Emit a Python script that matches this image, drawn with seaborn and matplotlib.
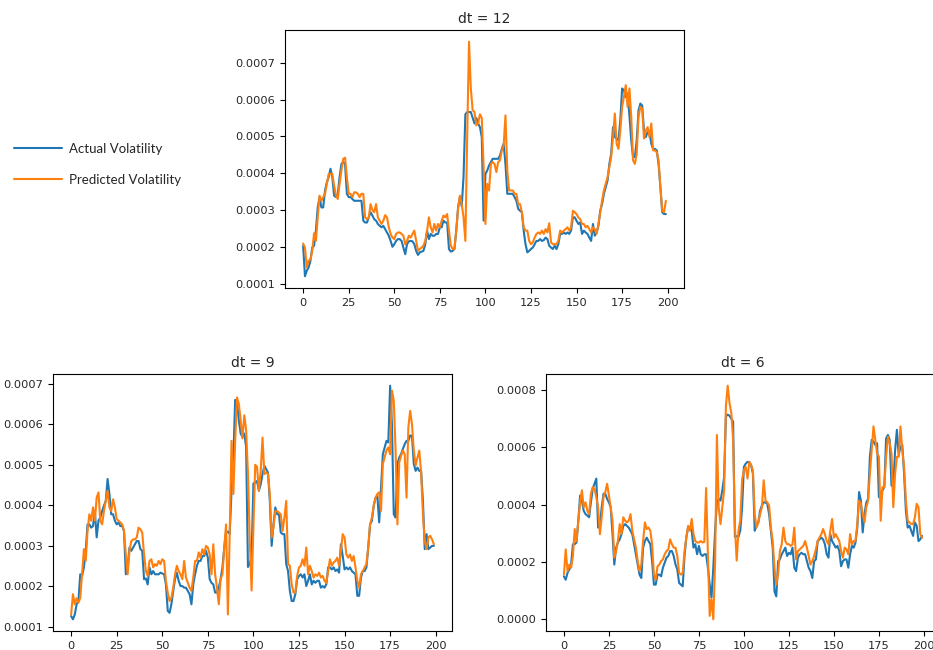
import numpy as np
import pandas as pd
import matplotlib
matplotlib.use("Agg")
import matplotlib.pyplot as plt
from matplotlib.ticker import MultipleLocator
import seaborn as sns

# Volatility series, stored in units of 1e-4
SCALE = 1e-4

actual_12 = [
    2.03, 1.2, 1.35, 1.44, 1.62, 1.98, 2.03, 2.44, 3.07, 3.35,
    3.07, 3.07, 3.53, 3.75, 3.89, 4.12, 3.89, 3.39, 3.35, 3.44,
    3.89, 4.25, 4.3, 4.25, 3.44, 3.35, 3.35, 3.3, 3.25, 3.25,
    3.25, 3.25, 3.25, 2.71, 2.66, 2.66, 2.8, 2.94, 2.85, 2.75,
    2.71, 2.62, 2.57, 2.53, 2.57, 2.48, 2.39, 2.3, 2.16, 2.0,
    2.07, 2.16, 2.21, 2.21, 2.16, 1.98, 1.8, 2.07, 2.15, 2.16,
    2.15, 2.07, 1.89, 1.78, 1.85, 1.87, 1.89, 2.07, 2.44, 2.21,
    2.35, 2.3, 2.3, 2.35, 2.35, 2.53, 2.53, 2.71, 2.66, 2.66,
    1.94, 1.87, 1.89, 1.94, 2.44, 3.07, 3.35, 3.1, 3.9, 5.6,
    5.66, 5.66, 5.66, 5.5, 5.35, 5.5, 5.35, 5.25, 4.98, 2.71,
    3.98, 4.07, 4.21, 4.3, 4.39, 4.39, 4.39, 4.39, 4.48, 4.66,
    4.8, 4.25, 3.44, 3.44, 3.44, 3.44, 3.35, 3.25, 3.03, 2.98,
    2.94, 2.44, 2.07, 1.85, 1.89, 1.94, 1.98, 2.07, 2.16, 2.16,
    2.21, 2.16, 2.18, 2.25, 2.21, 2.03, 1.98, 1.94, 2.03, 1.94,
    2.07, 2.35, 2.35, 2.39, 2.35, 2.39, 2.35, 2.44, 2.8, 2.8,
    2.71, 2.62, 2.66, 2.35, 2.44, 2.39, 2.35, 2.25, 2.16, 2.62,
    2.3, 2.39, 2.57, 2.98, 3.16, 3.44, 3.62, 3.8, 4.25, 4.53,
    5.25, 4.98, 4.94, 4.89, 5.44, 6.3, 6.25, 6.07, 6.16, 5.57,
    4.89, 4.44, 4.44, 4.89, 5.71, 5.89, 5.84, 5.16, 4.98, 5.12,
    5.12, 4.8, 4.66, 4.66, 4.62, 4.25, 3.62, 2.94, 2.89, 2.89,
]
predicted_12 = [
    2.09, 1.98, 1.44, 1.62, 1.66, 1.89, 2.37, 2.16, 2.8, 3.39,
    3.25, 3.35, 3.44, 3.71, 3.98, 3.98, 3.98, 3.66, 3.39, 3.3,
    3.71, 4.07, 4.39, 4.42, 3.89, 3.44, 3.44, 3.35, 3.48, 3.48,
    3.44, 3.35, 3.44, 3.44, 2.8, 2.75, 2.8, 3.16, 3.0, 2.94,
    3.16, 2.8, 2.71, 2.62, 2.71, 2.86, 2.8, 2.53, 2.35, 2.25,
    2.21, 2.35, 2.39, 2.39, 2.35, 2.3, 2.07, 2.16, 2.3, 2.25,
    2.35, 2.44, 2.16, 1.89, 1.94, 1.98, 2.03, 2.16, 2.44, 2.8,
    2.53, 2.39, 2.62, 2.44, 2.62, 2.53, 2.71, 2.85, 2.8, 2.89,
    2.44, 2.03, 1.94, 1.94, 2.44, 3.03, 3.39, 3.16, 2.8, 2.16,
    5.0, 7.57, 6.3, 5.71, 5.66, 5.3, 5.35, 5.6, 5.5, 4.2,
    2.62, 3.71, 3.53, 4.25, 4.3, 4.25, 4.03, 4.3, 4.35, 4.62,
    4.75, 5.57, 4.07, 3.53, 3.53, 3.53, 3.44, 3.44, 3.16, 3.16,
    2.94, 2.53, 2.44, 2.44, 2.16, 2.07, 2.12, 2.25, 2.35, 2.39,
    2.35, 2.44, 2.35, 2.48, 2.39, 2.64, 2.12, 2.07, 2.07, 2.07,
    2.16, 2.44, 2.39, 2.44, 2.48, 2.53, 2.44, 2.53, 2.98, 2.94,
    2.89, 2.8, 2.75, 2.62, 2.62, 2.53, 2.57, 2.48, 2.39, 2.53,
    2.48, 2.35, 2.62, 2.94, 3.25, 3.53, 3.71, 3.89, 4.16, 4.44,
    4.98, 5.62, 4.8, 4.66, 5.16, 5.8, 6.07, 6.39, 5.8, 6.3,
    5.53, 4.35, 4.25, 4.53, 5.53, 5.8, 5.75, 4.94, 5.16, 5.25,
    4.98, 5.35, 4.62, 4.62, 4.57, 4.35, 3.62, 2.98, 2.94, 3.25,
]

actual_9 = [
    1.27, 1.19, 1.31, 1.56, 1.64, 2.3, 2.26, 2.47, 2.88, 3.53,
    3.53, 3.45, 3.49, 3.86, 3.21, 3.62, 3.7, 3.86, 3.99, 4.11,
    4.65, 4.28, 3.78, 3.78, 3.62, 3.53, 3.58, 3.49, 3.49, 3.37,
    2.3, 2.47, 2.96, 2.88, 2.96, 3.04, 3.12, 3.12, 2.92, 2.88,
    2.18, 2.2, 2.05, 2.47, 2.3, 2.38, 2.3, 2.3, 2.3, 2.34,
    2.32, 2.3, 2.05, 1.4, 1.35, 1.56, 1.89, 2.18, 2.34, 2.14,
    2.01, 2.01, 1.97, 1.97, 1.89, 1.81, 1.56, 2.05, 2.3, 2.51,
    2.63, 2.63, 2.75, 2.75, 2.88, 2.71, 2.18, 2.09, 2.05, 1.85,
    1.85, 1.97, 2.18, 2.47, 2.96, 3.35, 3.35, 3.3, 4.37, 5.2,
    6.6, 6.56, 6.1, 5.77, 5.69, 5.77, 5.44, 2.48, 2.56, 2.73,
    4.54, 4.56, 4.6, 4.36, 4.52, 4.77, 4.98, 4.89, 4.81, 4.11,
    3.0, 3.53, 3.95, 3.78, 3.78, 3.33, 3.29, 3.29, 2.55, 2.38,
    1.89, 1.64, 1.64, 1.81, 2.18, 2.26, 2.3, 2.22, 2.3, 2.01,
    2.14, 2.3, 2.05, 2.14, 2.09, 2.14, 2.14, 1.97, 2.01, 1.97,
    2.05, 2.47, 2.47, 2.42, 2.47, 2.38, 2.42, 2.34, 3.04, 2.75,
    2.42, 2.47, 2.42, 2.47, 2.38, 2.34, 2.3, 1.77, 1.77, 2.22,
    2.38, 2.38, 2.47, 2.96, 3.53, 3.62, 3.99, 4.19, 4.23, 3.58,
    4.44, 5.26, 5.43, 5.59, 5.55, 6.95, 6.0, 3.78, 3.7, 5.02,
    5.18, 5.26, 5.39, 5.51, 5.59, 5.59, 5.72, 5.72, 5.02, 4.85,
    4.93, 4.85, 4.85, 4.11, 2.92, 3.29, 2.92, 2.96, 3.0, 3.0,
]
predicted_9 = [
    1.31, 1.81, 1.56, 1.71, 1.6, 1.72, 2.3, 2.92, 2.63, 3.37,
    3.78, 3.62, 3.95, 3.62, 4.19, 4.32, 3.62, 3.53, 3.86, 4.11,
    4.36, 3.95, 3.86, 4.15, 3.95, 3.66, 3.62, 3.58, 3.53, 3.37,
    2.79, 2.3, 2.88, 3.12, 3.16, 3.16, 3.21, 3.45, 3.41, 3.33,
    2.79, 2.38, 2.26, 2.63, 2.67, 2.47, 2.55, 2.51, 2.63, 2.55,
    2.67, 2.63, 2.14, 1.85, 1.64, 1.72, 1.97, 2.3, 2.51, 2.38,
    2.3, 2.18, 2.63, 2.22, 2.09, 1.97, 1.89, 2.22, 2.63, 2.63,
    2.84, 2.71, 2.92, 2.79, 3.0, 2.96, 2.79, 2.3, 3.04, 2.3,
    1.97, 1.56, 2.18, 2.3, 2.96, 3.53, 1.31, 3.3, 5.59, 4.28,
    5.6, 6.66, 6.5, 6.1, 5.65, 6.22, 5.86, 4.79, 3.14, 1.9,
    3.47, 5.0, 4.95, 4.36, 4.85, 5.67, 4.77, 4.81, 4.77, 4.28,
    3.21, 3.45, 3.86, 3.86, 3.82, 3.78, 3.37, 3.7, 4.11, 2.55,
    2.51, 2.05, 1.85, 1.85, 2.26, 2.47, 2.51, 2.67, 2.51, 2.96,
    2.3, 2.51, 2.38, 2.22, 2.3, 2.26, 2.34, 2.22, 2.26, 2.14,
    2.09, 2.38, 2.67, 2.51, 2.59, 2.63, 2.71, 2.51, 2.88, 3.29,
    3.21, 2.79, 2.71, 2.79, 2.63, 2.75, 2.47, 2.14, 1.97, 2.3,
    2.38, 2.47, 2.55, 2.96, 3.53, 3.7, 3.99, 4.19, 4.28, 4.32,
    3.86, 5.02, 5.18, 5.35, 5.43, 5.26, 6.83, 6.58, 5.35, 3.53,
    5.06, 5.22, 5.35, 5.26, 4.19, 5.92, 6.33, 6.0, 5.35, 4.98,
    5.18, 5.35, 4.81, 3.78, 3.12, 2.92, 3.21, 3.25, 3.16, 3.04,
]

actual_6 = [
    1.5, 1.38, 1.62, 1.74, 1.91, 2.62, 2.62, 2.68, 3.44, 4.32,
    4.14, 3.79, 3.67, 3.62, 3.56, 4.08, 4.55, 4.73, 4.91, 3.2,
    3.26, 3.91, 4.38, 4.38, 4.2, 4.08, 3.91, 2.97, 1.91, 2.5,
    2.68, 2.79, 2.97, 3.26, 3.32, 3.26, 3.2, 3.09, 2.97, 2.62,
    2.27, 1.91, 1.56, 1.44, 2.5, 2.73, 2.85, 2.73, 2.62, 2.03,
    1.21, 1.21, 1.56, 1.56, 1.5, 1.8, 1.97, 2.15, 2.21, 2.38,
    2.38, 2.21, 1.91, 1.74, 1.27, 1.21, 1.15, 2.21, 2.85, 3.2,
    3.2, 3.09, 2.5, 2.62, 2.27, 2.56, 2.27, 2.21, 2.27, 2.27,
    1.8, 1.21, 0.76, 1.8, 3.09, 4.08, 4.2, 4.14, 4.5, 4.96,
    7.08, 7.14, 7.1, 7.0, 6.9, 2.88, 2.9, 2.88, 3.1, 3.9,
    5.32, 5.43, 5.49, 5.49, 5.38, 5.08, 3.09, 3.26, 3.38, 3.79,
    3.97, 4.08, 4.08, 4.03, 3.67, 3.09, 2.5, 0.97, 0.8, 2.03,
    2.09, 2.27, 2.38, 2.5, 2.21, 2.32, 2.27, 2.5, 1.8, 1.68,
    2.15, 2.27, 2.32, 2.27, 2.27, 2.03, 1.8, 1.68, 1.44, 2.03,
    2.09, 2.73, 2.79, 2.85, 2.79, 2.62, 2.27, 2.15, 2.97, 2.73,
    2.62, 2.5, 2.56, 2.38, 1.85, 2.03, 2.09, 2.09, 1.8, 2.27,
    2.56, 2.5, 2.68, 3.2, 4.44, 4.14, 3.03, 3.67, 4.08, 4.2,
    5.67, 6.26, 6.2, 6.08, 6.14, 4.26, 4.38, 4.5, 4.61, 6.31,
    6.43, 6.26, 4.67, 4.61, 5.9, 6.61, 5.73, 6.02, 6.08, 5.08,
    3.79, 3.2, 3.26, 3.09, 2.91, 3.38, 3.26, 2.73, 2.79, 2.91,
]
predicted_6 = [
    1.56, 2.44, 1.68, 1.91, 1.8, 2.21, 3.15, 2.73, 3.44, 4.08,
    4.5, 3.91, 4.08, 3.79, 3.67, 4.38, 4.61, 4.55, 4.26, 3.91,
    2.97, 3.56, 4.26, 4.44, 4.73, 4.32, 3.91, 3.44, 2.15, 2.38,
    2.73, 3.32, 2.97, 3.56, 3.44, 3.38, 3.44, 3.67, 3.09, 2.79,
    2.5, 2.03, 1.68, 1.91, 2.73, 3.38, 3.15, 3.2, 3.09, 2.62,
    1.56, 1.38, 1.85, 1.91, 2.03, 2.09, 2.27, 2.38, 2.44, 2.79,
    2.62, 2.5, 2.5, 2.21, 1.62, 1.56, 1.62, 2.38, 2.85, 3.26,
    3.09, 3.5, 2.97, 2.73, 2.68, 2.68, 2.73, 2.68, 2.7, 4.58,
    2.27, 0.12, 0.7, 0.0, 2.0, 6.43, 3.9, 3.32, 3.9, 4.5,
    7.43, 8.15, 7.55, 7.2, 6.28, 3.23, 2.05, 3.1, 3.46, 4.87,
    5.2, 5.32, 4.91, 5.49, 5.38, 5.2, 3.67, 3.2, 3.38, 3.67,
    3.91, 4.85, 4.14, 4.08, 3.97, 3.2, 2.73, 1.8, 1.21, 1.56,
    2.38, 2.62, 3.2, 2.73, 2.62, 2.62, 2.56, 2.62, 3.2, 2.09,
    2.38, 2.44, 2.5, 2.56, 2.73, 2.5, 2.21, 1.91, 2.03, 2.21,
    2.44, 2.73, 2.85, 2.97, 3.15, 2.97, 2.73, 2.62, 3.09, 3.5,
    2.85, 2.97, 2.85, 2.73, 2.38, 2.15, 2.5, 2.44, 2.27, 2.97,
    2.62, 2.73, 2.73, 3.32, 4.14, 4.03, 3.67, 3.38, 3.91, 4.14,
    5.08, 5.9, 6.73, 6.26, 5.79, 5.67, 3.44, 4.61, 4.61, 5.67,
    6.37, 6.14, 5.79, 3.91, 5.08, 5.67, 5.67, 6.73, 5.9, 5.32,
    4.14, 3.44, 3.38, 3.32, 3.32, 3.56, 4.03, 3.91, 2.97, 2.85,
]

panel_titles = ["dt = 12", "dt = 9", "dt = 6"]
series_labels = ["Actual Volatility", "Predicted Volatility"]
colors = ["#1f77b4", "#ff7f0e"]

sns.set_style("ticks")
plt.rcParams.update({
    "font.family": ["DejaVu Sans"],
    "axes.edgecolor": "black",
    "axes.linewidth": 0.8,
    "xtick.color": "black",
    "ytick.color": "black",
    "xtick.labelcolor": "#262626",
    "ytick.labelcolor": "#262626",
    "xtick.labelsize": 8.2,
    "ytick.labelsize": 8.2,
    "xtick.major.size": 3.5,
    "ytick.major.size": 3.5,
    "axes.titlesize": 10,
    "axes.titlecolor": "#262626",
})

W, H = 933, 650
fig = plt.figure(figsize=(W / 100, H / 100), dpi=100)


def box(left, top, right, bottom):
    return [left / W, 1 - bottom / H, (right - left) / W, (bottom - top) / H]


ax_top = fig.add_axes(box(285, 30, 684, 288))
ax_bl = fig.add_axes(box(53, 374, 452, 631))
ax_br = fig.add_axes(box(546, 374, 940, 631))

panels = [
    (ax_top, actual_12, predicted_12, 0.0001),
    (ax_bl, actual_9, predicted_9, 0.0001),
    (ax_br, actual_6, predicted_6, 0.0002),
]

for (ax, act, pred, ystep), title in zip(panels, panel_titles):
    df = pd.DataFrame({
        "step": np.arange(len(act)),
        series_labels[0]: np.array(act) * SCALE,
        series_labels[1]: np.array(pred) * SCALE,
    })
    long = df.melt(id_vars="step", var_name="series", value_name="volatility")
    sns.lineplot(data=long, x="step", y="volatility", hue="series",
                 palette=colors, linewidth=1.5, ax=ax, legend=(ax is ax_top))
    ax.set_title(title, pad=5)
    ax.set_xlabel("")
    ax.set_ylabel("")
    ax.set_xticks([0, 25, 50, 75, 100, 125, 150, 175, 200])
    ax.yaxis.set_major_locator(MultipleLocator(ystep))
    ax.margins(x=0.05, y=0.05)
    for side in ["top", "right", "left", "bottom"]:
        ax.spines[side].set_visible(True)

handles, labels = ax_top.get_legend_handles_labels()
ax_top.get_legend().remove()
fig.legend(handles, labels, loc="center left", bbox_to_anchor=(14 / W, 1 - 164.5 / H),
           frameon=False, borderpad=0, borderaxespad=0, handlelength=3.6,
           handletextpad=0.55, labelspacing=1.45,
           prop={"family": "Lato", "size": 9.5})

fig.savefig("out.png", dpi=100)
